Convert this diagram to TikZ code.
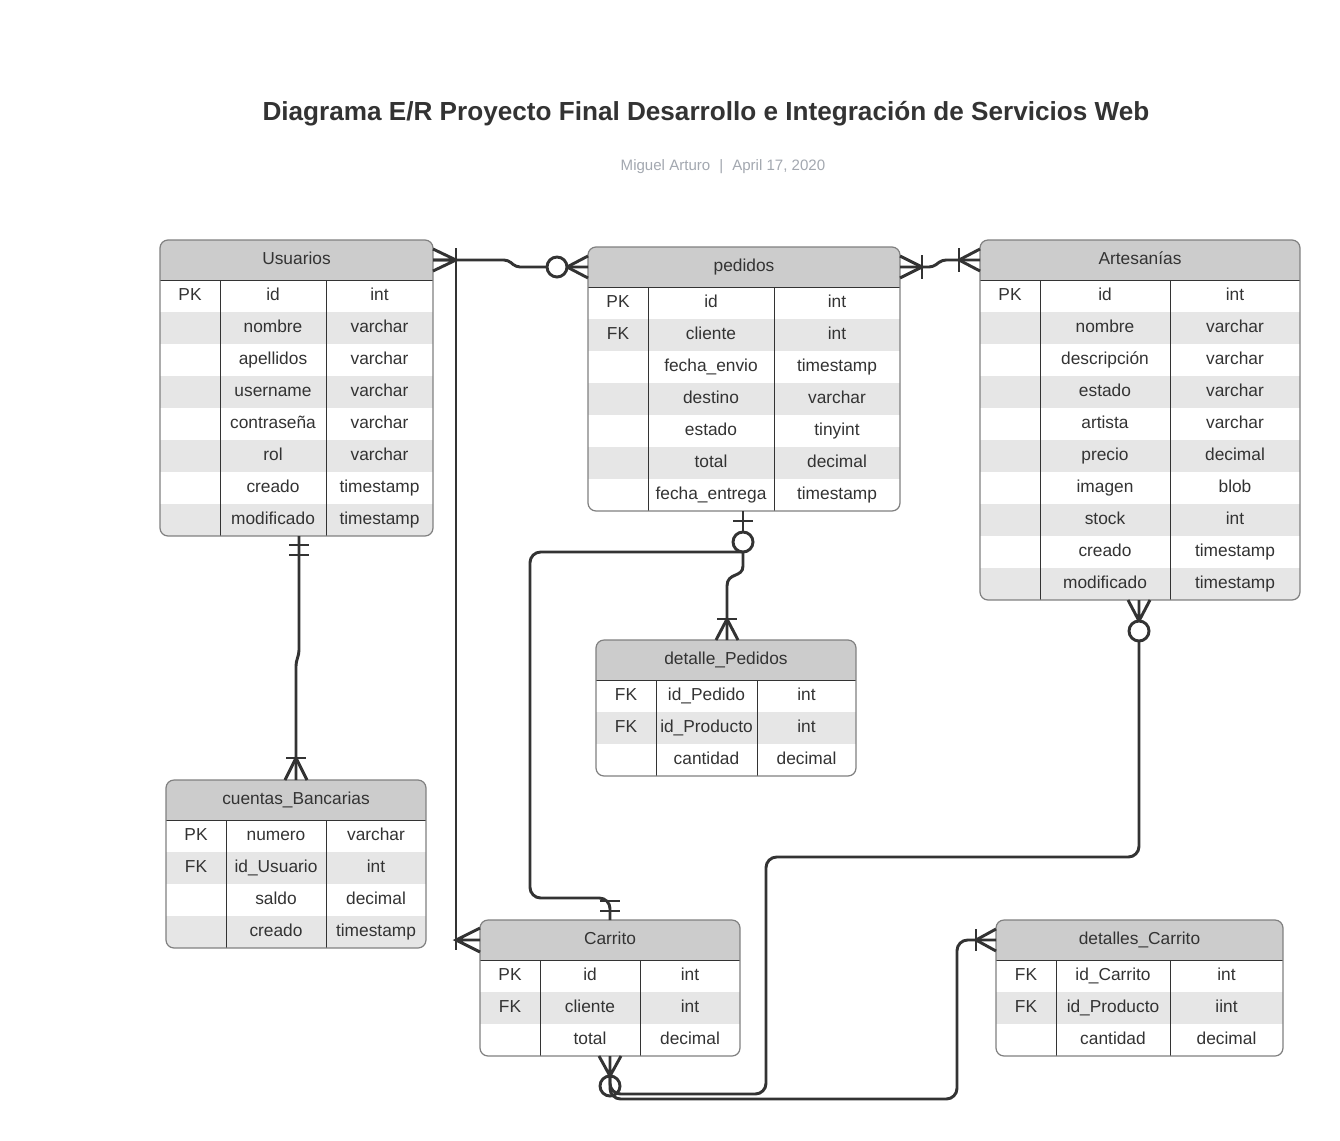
\documentclass[tikz,border=0pt]{standalone}
\usepackage{fontspec}
\setmainfont{Liberation Sans}
\usetikzlibrary{fit}
\definecolor{ink}{HTML}{333333}
\definecolor{hdrgray}{HTML}{CCCCCC}
\definecolor{rowgray}{HTML}{E6E6E6}
\definecolor{bordergray}{HTML}{808080}
\definecolor{subgray}{HTML}{A3A8B0}
\tikzset{
  celltxt/.style={text=ink, font=\fontsize{13}{15}\selectfont, inner sep=0pt, anchor=center, text height=9.4pt, text depth=2.6pt},
  conn/.style={draw=ink, line width=2.2pt, rounded corners=8pt},
  ermk/.style={draw=ink, line width=2.2pt},
}
\newcommand\ertable[9]{%
  % #1 name #2 x1 #3 y1 #4 x2 #5 c1 #6 c2 #7 title #8 rows #9 nrows
  \pgfmathsetmacro\yb{#3+40+32*#9}
  \begin{scope}
    \clip[rounded corners=6pt] (#2,#3) rectangle (#4,\yb);
    \fill[white] (#2,#3) rectangle (#4,\yb);
    \fill[hdrgray] (#2,#3) rectangle (#4,#3+40);
    \foreach \k/\n/\t [count=\i from 0] in {#8} {
      \pgfmathsetmacro\ya{#3+40+32*\i}
      \ifodd\i \fill[rowgray] (#2,\ya) rectangle (#4,\ya+32); \fi
      \node[celltxt] (#1-k\i) at ({(#2+#5)/2},\ya+16) {\k};
      \node[celltxt] (#1-n\i) at ({(#5+#6)/2},\ya+16) {\n};
      \node[celltxt] (#1-t\i) at ({(#6+#4)/2},\ya+16) {\t};
    }
  \end{scope}
  \draw[ink, line width=0.6pt] (#2,#3+40) -- (#4,#3+40);
  \draw[ink, line width=0.6pt] (#5,#3+40) -- (#5,\yb) (#6,#3+40) -- (#6,\yb);
  \draw[bordergray, line width=0.9pt, rounded corners=6pt] (#2,#3) rectangle (#4,\yb);
  \node[celltxt] (#1-title) at ({(#2+#4)/2},#3+20) {#7};
  \node[fit={(#2,#3) (#4,\yb)}, inner sep=0pt] (#1) {};
}
\begin{document}
\begin{tikzpicture}[x=0.75pt,y=-0.75pt]
\useasboundingbox (0,0) rectangle (1340,1140);
\fill[white] (0,0) rectangle (1340,1140);

\node[text=ink, font=\fontsize{19.6}{22}\selectfont\bfseries] (title) at (706,114) {Diagrama E/R Proyecto Final Desarrollo e Integración de Servicios Web};
\node[text=subgray, font=\fontsize{11.3}{13}\selectfont] (subtitle) at (723,167) {Miguel Arturo\hspace{0.6em}|\hspace{0.6em}April 17, 2020};

\ertable{usu}{160}{240}{433}{220}{326}{Usuarios}{PK/id/int, /nombre/varchar, /apellidos/varchar, /username/varchar, /contraseña/varchar, /rol/varchar, /creado/timestamp, /modificado/timestamp}{8}
\ertable{ped}{588}{247}{900}{648}{774}{pedidos}{PK/id/int, FK/cliente/int, /fecha\_envio/timestamp, /destino/varchar, /estado/tinyint, /total/decimal, /fecha\_entrega/timestamp}{7}
\ertable{art}{980}{240}{1300}{1040}{1170}{Artesanías}{PK/id/int, /nombre/varchar, /descripción/varchar, /estado/varchar, /artista/varchar, /precio/decimal, /imagen/blob, /stock/int, /creado/timestamp, /modificado/timestamp}{10}
\ertable{dped}{596}{640}{856}{656}{757}{detalle\_Pedidos}{FK/id\_Pedido/int, FK/id\_Producto/int, /cantidad/decimal}{3}
\ertable{cta}{166}{780}{426}{226}{326}{cuentas\_Bancarias}{PK/numero/varchar, FK/id\_Usuario/int, /saldo/decimal, /creado/timestamp}{4}
\ertable{car}{480}{920}{740}{540}{640}{Carrito}{PK/id/int, FK/cliente/int, /total/decimal}{3}
\ertable{dcar}{996}{920}{1283}{1056}{1170}{detalles\_Carrito}{FK/id\_Carrito/int, FK/id\_Producto/iint, /cantidad/decimal}{3}

% connector end points
\coordinate (usuR) at (433,260);
\coordinate (pedL) at (588,267);
\coordinate (pedR) at (900,267);
\coordinate (artL) at (980,260);
\coordinate (usuB) at (299,536);
\coordinate (ctaT) at (296,780);
\coordinate (pedB) at (743,511);
\coordinate (dpedT) at (727,640);
\coordinate (carT) at (610,920);
\coordinate (carL) at (480,940);
\coordinate (carB) at (610,1056);
\coordinate (artB) at (1139,600);
\coordinate (dcarL) at (996,940);

% Usuarios - pedidos
\draw[conn, rounded corners=3pt] (usuR) -- (508,260) -- (516,267) -- (pedL);
\draw[ermk] (433,249) -- (456,260) -- (433,271) (433,260) -- (456,260);
\draw[ermk] (456,248) -- (456,272);
\draw[ermk] (pedL) ++(0,-11) -- (567,267) -- (588,278);
\draw[ermk, fill=white] (557,267) circle[radius=7.5pt];

% Usuarios - Carrito
\draw[ermk] (456,260) -- (456,950);
\draw[ermk] (480,928) -- (456,940) -- (480,952) (456,940) -- (carL);

% pedidos - Artesanias
\draw[conn, rounded corners=3pt] (pedR) -- (933,267) -- (942,260) -- (artL);
\draw[ermk] (900,256) -- (922,267) -- (900,278);
\draw[ermk] (922,255) -- (922,279);
\draw[ermk] (980,249) -- (959,260) -- (980,271);
\draw[ermk] (959,248) -- (959,272);

% Usuarios - cuentas_Bancarias
\draw[conn, rounded corners=3pt] (usuB) -- (299,654) -- (296,662) -- (ctaT);
\draw[ermk] (289,545) -- (309,545) (289,555) -- (309,555);
\draw[ermk] (285,780) -- (296,758) -- (307,780);
\draw[ermk] (286,758) -- (306,758);

% pedidos - detalle_Pedidos
\draw[ermk] (pedB) -- (743,532);
\draw[ermk] (733,521) -- (753,521);
\draw[ermk] (743,552) -- (743,566) .. controls (743,578) and (727,572) .. (727,586) -- (dpedT);
\draw[ermk] (716,640) -- (727,619) -- (738,640);
\draw[ermk] (717,619) -- (737,619);

% pedidos - Carrito
\draw[conn] (743,552) -| (530,898) -| (carT);
\draw[ermk] (600,901) -- (620,901) (600,911) -- (620,911);
\draw[ermk, fill=white] (743,542) circle[radius=7.5pt];

% Artesanias - Carrito
\draw[conn] (610,1076) |- (766,1094) |- (1139,857) -- (1139,641);
\draw[ermk] (1128,600) -- (1139,621) -- (1150,600) (artB) -- (1139,621);
\draw[ermk, fill=white] (1139,631) circle[radius=7.5pt];

% Carrito - detalles_Carrito
\draw[conn] (610,1076) |- (957,1099) |- (dcarL);
\draw[ermk] (996,929) -- (976,940) -- (996,951);
\draw[ermk] (976,929) -- (976,951);

% Carrito bottom end
\draw[ermk] (599,1056) -- (610,1076) -- (621,1056) (carB) -- (610,1076);
\draw[ermk] (610,1086) circle[radius=7.5pt];
\end{tikzpicture}
\end{document}
